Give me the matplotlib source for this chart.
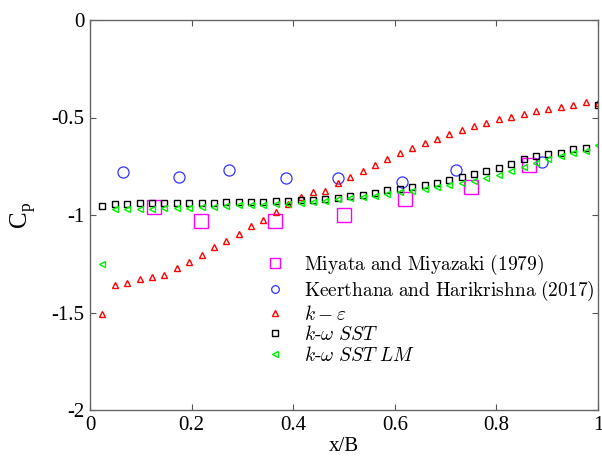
import numpy as np
import matplotlib
matplotlib.use("Agg")
import matplotlib.pyplot as plt

plt.rcParams['font.family'] = ['Liberation Serif', 'DejaVu Serif']
plt.rcParams['mathtext.fontset'] = 'cm'

# CFD stations x/B = i/41
n_cfd = 41
x_cfd = [i / n_cfd for i in range(1, n_cfd + 1)]

k_eps = [-1.508, -1.359, -1.349, -1.328, -1.318, -1.309, -1.272, -1.239, -1.205, -1.164,
         -1.132, -1.096, -1.058, -1.026, -0.983, -0.943, -0.906, -0.881, -0.875, -0.838,
         -0.807, -0.776, -0.742, -0.712, -0.684, -0.658, -0.632, -0.609, -0.585, -0.564,
         -0.544, -0.527, -0.509, -0.496, -0.480, -0.467, -0.455, -0.444, -0.434, -0.422,
         -0.427]

k_omega_sst = [-0.953, -0.946, -0.943, -0.941, -0.938, -0.937, -0.937, -0.937, -0.937, -0.936,
               -0.935, -0.934, -0.933, -0.932, -0.929, -0.928, -0.925, -0.921, -0.916, -0.911,
               -0.905, -0.895, -0.886, -0.872, -0.865, -0.856, -0.846, -0.834, -0.821, -0.803,
               -0.792, -0.773, -0.757, -0.737, -0.715, -0.696, -0.689, -0.680, -0.663, -0.655,
               -0.435]

k_omega_sst_lm = [-1.253, -0.970, -0.970, -0.970, -0.968, -0.966, -0.965, -0.962, -0.960, -0.957,
                  -0.954, -0.951, -0.948, -0.947, -0.945, -0.942, -0.937, -0.934, -0.927, -0.920,
                  -0.915, -0.908, -0.900, -0.893, -0.883, -0.876, -0.866, -0.857, -0.846, -0.838,
                  -0.824, -0.811, -0.794, -0.773, -0.755, -0.733, -0.715, -0.697, -0.681, -0.673,
                  -0.641]

miyata_x = [0.125, 0.219, 0.365, 0.500, 0.620, 0.750, 0.865]
miyata_y = [-0.961, -1.029, -1.029, -1.000, -0.918, -0.856, -0.744]

keer_x = [0.064, 0.175, 0.274, 0.385, 0.489, 0.615, 0.720, 0.890]
keer_y = [-0.778, -0.807, -0.769, -0.809, -0.809, -0.829, -0.769, -0.727]

labels = [r'$\mathrm{Miyata\ and\ Miyazaki\ (1979)}$',
          r'$\mathrm{Keerthana\ and\ Harikrishna\ (2017)}$',
          r'$k-\varepsilon$', r'$k\text{-}\omega\ SST$', r'$k\text{-}\omega\ SST\ LM$']
xticks = [0, 0.2, 0.4, 0.6, 0.8, 1]
xticklabels = ['0', '0.2', '0.4', '0.6', '0.8', '1']
yticks = [-2, -1.5, -1, -0.5, 0]
yticklabels = ['-2', '-1.5', '-1', '-0.5', '0']

fig = plt.figure(figsize=(6.02, 4.68), dpi=100)
ax = fig.add_axes([90 / 602, 58 / 468, 508 / 602, 390 / 468])

h1, = ax.plot(miyata_x, miyata_y, 's', ms=9.5, mfc='none', mec='#ff00ff', mew=1.0, label=labels[0])
h2, = ax.plot(keer_x, keer_y, 'o', ms=8, mfc='none', mec='#3333ff', mew=0.9, label=labels[1])
h3, = ax.plot(x_cfd, k_eps, '^', ms=5, mfc='none', mec='#ff0000', mew=1.0, label=labels[2])
h4, = ax.plot(x_cfd, k_omega_sst, 's', ms=5, mfc='none', mec='black', mew=1.0, label=labels[3])
h5, = ax.plot(x_cfd, k_omega_sst_lm, '<', ms=5, mfc='none', mec='#00ee00', mew=1.0, label=labels[4])

ax.set_xlim(0, 1)
ax.set_ylim(-2, 0)
ax.set_xticks(xticks)
ax.set_xticklabels(xticklabels)
ax.set_yticks(yticks)
ax.set_yticklabels(yticklabels)
ax.tick_params(direction='in', top=True, right=True, length=4, width=0.8,
               color='#555555', labelsize=15, pad=4)
for s in ax.spines.values():
    s.set_color('#666666')
    s.set_linewidth(1.0)

ax.set_xlabel('x/B', fontsize=15, labelpad=2)
ax.set_ylabel(r'C$_\mathregular{p}$', fontsize=18, labelpad=10)

leg = ax.legend(handles=[h1, h2, h3, h4, h5], loc='upper left', bbox_to_anchor=(0.325, 0.422),
                frameon=False, fontsize=14, handlelength=1.2, handletextpad=0.9,
                labelspacing=0.08, borderaxespad=0)
for h, ms in zip(leg.legend_handles, [7, 5.5, 4, 4, 4]):
    h.set_markersize(ms)

fig.savefig('out.png', dpi=100)
